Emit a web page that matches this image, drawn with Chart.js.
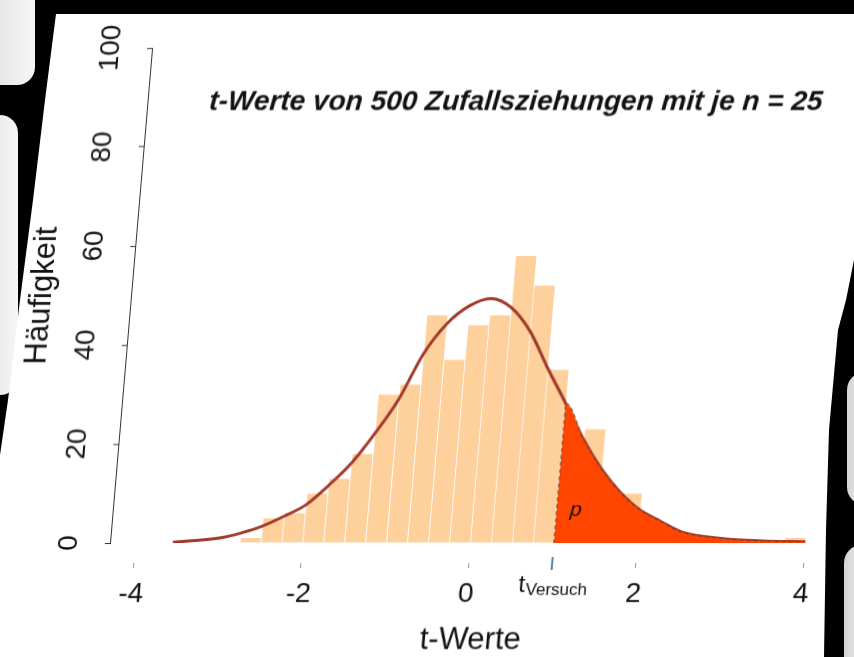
<!DOCTYPE html>
<html>
<head>
<meta charset="utf-8">
<title>t-Werte</title>
<script src="https://cdn.jsdelivr.net/npm/chart.js@4.4.1/dist/chart.umd.min.js"></script>
<style>
  html, body { margin: 0; padding: 0; background: #000; overflow: hidden; }
  #stage { position: relative; width: 854px; height: 657px; overflow: hidden; background: #000; }
  .slide {
    position: absolute; left: 0; top: 0; width: 854px; height: 657px; background: #fff;
    clip-path: polygon(56px 14px, 854px 14px, 854px 260px, 846px 300px, 838px 330px, 829px 430px,
      826px 530px, 824px 657px, 0 657px, 0 455px, 8px 400px, 20px 300px, 33px 200px, 45px 100px);
  }
  .blob { position: absolute; background: linear-gradient(to right, #d6d6d6, #f6f6f6); border-radius: 18px; }
  #chart { position: absolute; left: 0; top: 0; transform: skewX(-4.86deg); transform-origin: 0 543px; }
</style>
</head>
<body>
<div id="stage">
  <div class="blob" style="left:-40px; top:-40px; width:75px; height:125px;"></div>
  <div class="blob" style="left:-40px; top:115px; width:58px; height:280px;"></div>
  <div class="blob" style="left:847px; top:372px; width:40px; height:133px;"></div>
  <div class="blob" style="left:844px; top:545px; width:40px; height:150px;"></div>
  <div class="slide"></div>
  <canvas id="chart" width="854" height="657"></canvas>
</div>
<script>
// Histogramm: linke Klassengrenzen (Breite 0.25) und Häufigkeiten
const binWidth = 0.25;
const binLeft = [-2.75, -2.5, -2.25, -2, -1.75, -1.5, -1.25, -1, -0.75, -0.5, -0.25, 0, 0.25,
  0.5, 0.75, 1, 1.25, 1.5, 1.75, 2, 2.25, 2.5, 2.75, 3, 3.25, 3.5, 3.75];
const counts = [1, 5, 6, 10, 13, 18, 30, 32, 46, 37, 44, 46, 58,
  52, 35, 20, 23, 9, 10, 2, 1, 0, 1, 0, 0, 0, 1];

// Dichtekurve
const curveT = [-3.55, -3, -2.75, -2.5, -2.25, -2, -1.75, -1.5, -1.25, -1, -0.75, -0.5, -0.25, 0,
  0.25, 0.5, 0.75, 1, 1.25, 1.5, 1.75, 2, 2.25, 2.5, 3, 3.5, 4];
const curveY = [0.15, 1.0, 2.0, 3.4, 5.4, 7.7, 11.6, 16.1, 22.1, 29.0, 38.2, 44.3, 47.9, 49.4,
  47.6, 42.8, 35.3, 28.2, 20.9, 14.8, 10.1, 6.6, 4.4, 2.3, 0.9, 0.4, 0.25];

const tVersuch = 1.0;
const xTicks = [-4, -2, 0, 2, 4];
const yTicks = [0, 20, 40, 60, 80, 100];

const titel = 't-Werte von 500 Zufallsziehungen mit je n = 25';
const xTitel = 't-Werte';
const yTitel = 'Häufigkeit';

const balken = binLeft.map((l, i) => ({ x: l + binWidth / 2, y: counts[i] }));
const kurve = curveT.map((t, i) => ({ x: t, y: curveY[i] }));
const pFlaeche = [{ x: tVersuch, y: 0 }].concat(kurve.filter(p => p.x >= tVersuch));

const FONT = '"Liberation Sans", Arial, sans-serif';
Chart.defaults.font.family = FONT;

// Titel, t_Versuch und p
const beschriftung = {
  id: 'beschriftung',
  afterDatasetsDraw(chart) {
    const { ctx, chartArea, scales: { x, y } } = chart;
    ctx.save();
    ctx.fillStyle = '#111';
    ctx.textBaseline = 'alphabetic';

    ctx.font = 'italic bold 28px ' + FONT;
    ctx.textAlign = 'center';
    ctx.fillText(titel, (chartArea.left + chartArea.right) / 2, chartArea.top + 62);

    ctx.font = 'italic 21px ' + FONT;
    ctx.fillText('p', x.getPixelForValue(1.23), y.getPixelForValue(5.5));

    const xv = x.getPixelForValue(tVersuch);
    ctx.strokeStyle = '#4f7fb5';
    ctx.lineWidth = 2;
    ctx.beginPath();
    ctx.moveTo(xv, chartArea.bottom + 14);
    ctx.lineTo(xv, chartArea.bottom + 27);
    ctx.stroke();

    ctx.textAlign = 'left';
    ctx.font = '24px ' + FONT;
    const tx = xv - 32;
    ctx.fillText('t', tx, chartArea.bottom + 49);
    const w = ctx.measureText('t').width;
    ctx.font = '17px ' + FONT;
    ctx.fillText('Versuch', tx + w + 1, chartArea.bottom + 52);
    ctx.restore();
  }
};

new Chart(document.getElementById('chart'), {
  type: 'bar',
  data: {
    datasets: [
      {
        type: 'line',
        label: 'p',
        data: pFlaeche,
        order: 0,
        backgroundColor: '#ff4500',
        borderColor: 'rgba(115, 60, 50, 0.85)',
        borderWidth: 1.2,
        borderDash: [4, 3],
        fill: 'origin',
        pointRadius: 0,
        cubicInterpolationMode: 'monotone'
      },
      {
        type: 'line',
        label: 'Dichte',
        data: kurve,
        order: 1,
        borderColor: '#a0392a',
        borderWidth: 3,
        fill: false,
        pointRadius: 0,
        cubicInterpolationMode: 'monotone'
      },
      {
        type: 'bar',
        label: yTitel,
        data: balken,
        order: 2,
        backgroundColor: '#fdd09c',
        borderColor: 'rgba(255, 255, 255, 0.85)',
        borderWidth: { left: 1, right: 0, top: 0, bottom: 0 },
        barPercentage: 1,
        categoryPercentage: 1
      }
    ]
  },
  options: {
    responsive: false,
    animation: false,
    layout: { padding: { top: 48, right: 7, bottom: 0, left: 0 } },
    plugins: {
      legend: { display: false },
      tooltip: { enabled: false },
      title: { display: false }
    },
    scales: {
      x: {
        type: 'linear',
        min: -4.3,
        max: 4.5,
        offset: false,
        afterBuildTicks: s => { s.ticks = xTicks.map(v => ({ value: v })); },
        afterFit: s => { s.height = 114; },
        border: { display: false },
        grid: {
          offset: false,
          drawOnChartArea: false,
          tickLength: 25,
          tickColor: '#999',
          tickWidth: 1,
          tickBorderDash: [5, 20],
          tickBorderDashOffset: 5
        },
        ticks: { font: { size: 28 }, color: '#111', padding: 9, maxRotation: 0, autoSkip: false },
        title: {
          display: true, text: xTitel, color: '#111',
          font: { size: 31, lineHeight: 1 }, padding: { top: 0, bottom: 1 }
        }
      },
      y: {
        min: 0,
        max: 100,
        afterBuildTicks: s => { s.ticks = yTicks.map(v => ({ value: v })); },
        afterFit: s => { s.width = 110; },
        border: { display: true, color: '#333', width: 1 },
        grid: { drawOnChartArea: false, tickLength: 5, tickColor: '#333' },
        ticks: {
          font: { size: 28 }, color: '#111', minRotation: 90, maxRotation: 90,
          crossAlign: 'center', padding: 12
        },
        title: {
          display: true, text: yTitel, color: '#111',
          font: { size: 31, lineHeight: 1 }, padding: { top: 6, bottom: 0 }
        }
      }
    }
  },
  plugins: [beschriftung]
});
</script>
</body>
</html>
